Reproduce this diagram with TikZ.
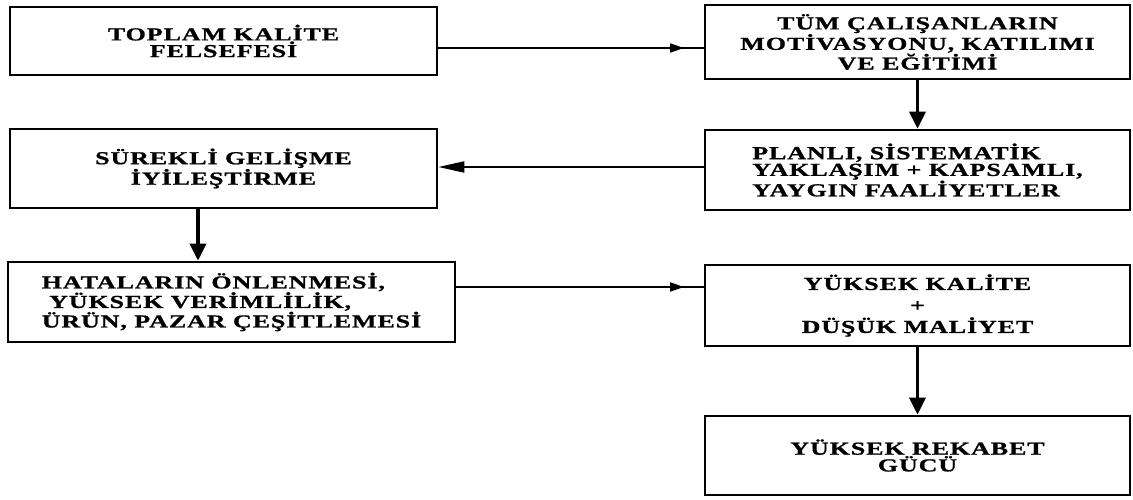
\documentclass[tikz,border=0pt]{standalone}
\usepackage{fontspec}
\usetikzlibrary{arrows.meta}
\newfontfamily\boxfont{Liberation Serif}[FakeStretch=1.42,LetterSpace=5,FakeBold=1]
\tikzset{
  boxnode/.style={draw=black, line width=2.6pt, rectangle, inner sep=4pt,
    font=\boxfont\bfseries\fontsize{18.3}{16.7}\selectfont, align=center},
  harr/.style={line width=2pt},
  hhead/.style={line width=2pt, -{Triangle[length=14pt,width=9pt]}},
  lhead/.style={line width=2pt, -{Triangle[length=26pt,width=11pt]}},
  varr/.style={line width=3.4pt, -{Triangle[length=17pt,width=16pt]}},
}
\begin{document}
\begin{tikzpicture}[x=1pt,y=1pt]
\useasboundingbox (0,0) rectangle (1133,499);
\node[boxnode, minimum width=427pt, minimum height=68pt] (b1) at (223.5,458)
  {TOPLAM KALİTE\\FELSEFESİ};
\node[boxnode, minimum width=425pt, minimum height=74pt] (b2) at (917.5,457)
  {TÜM ÇALIŞANLARIN\\MOTİVASYONU, KATILIMI\\VE EĞİTİMİ};
\node[boxnode, minimum width=425pt, minimum height=80pt, align=left] (b3) at (917.5,329)
  {PLANLI, SİSTEMATİK\\YAKLAŞIM + KAPSAMLI,\\YAYGIN FAALİYETLER};
\node[boxnode, minimum width=427pt, minimum height=79pt] (b4) at (223.5,330.5)
  {SÜREKLİ GELİŞME\\İYİLEŞTİRME};
\node[boxnode, minimum width=447pt, minimum height=80pt, align=left] (b5) at (231.5,197)
  {HATALARIN ÖNLENMESİ,\\\ YÜKSEK VERİMLİLİK,\\ÜRÜN, PAZAR ÇEŞİTLEMESİ};
\node[boxnode, minimum width=425pt, minimum height=81pt,
  font=\boxfont\bfseries\fontsize{18.3}{21.5}\selectfont] (b6) at (917.5,193.5)
  {YÜKSEK KALİTE\\+\\DÜŞÜK MALİYET};
\node[boxnode, minimum width=425pt, minimum height=79pt] (b7) at (917.5,43.5)
  {YÜKSEK REKABET\\GÜCÜ};
\coordinate (h1) at (0,451);
\coordinate (h3) at (0,332);
\coordinate (h5) at (0,212);
\coordinate (v4) at (198,0);
\coordinate (t1) at (684,451);
\coordinate (t5) at (684,212);
% arrow 1
\draw[harr] (b1.east |- h1) -- (b2.west |- h1);
\draw[hhead] (b1.east |- h1) -- (t1);
% arrow 2
\draw[varr] (b2.south) -- (b3.north);
% arrow 3
\draw[lhead] (b3.west |- h3) -- (b4.east |- h3);
% arrow 4
\draw[varr] (b4.south -| v4) -- (b5.north -| v4);
% arrow 5
\draw[harr] (b5.east |- h5) -- (b6.west |- h5);
\draw[hhead] (b5.east |- h5) -- (t5);
% arrow 6
\draw[varr] (b6.south) -- (b7.north);
\end{tikzpicture}
\end{document}
